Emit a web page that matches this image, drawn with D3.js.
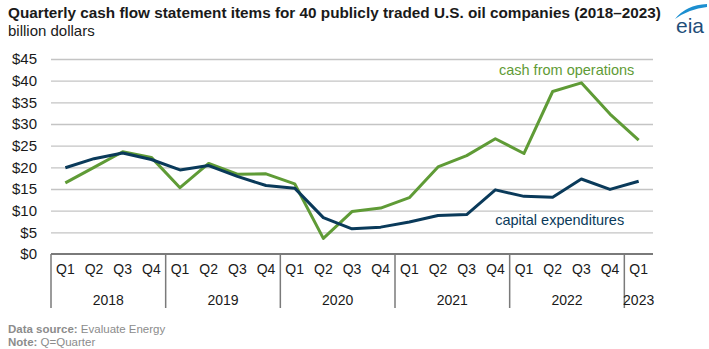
<!DOCTYPE html>
<html>
<head>
<meta charset="utf-8">
<script src="https://cdn.jsdelivr.net/npm/d3@7"></script>
<style>
  body { margin: 0; background: #fff; }
  svg { font-family: "Liberation Sans", Arial, sans-serif; }
</style>
</head>
<body>
<div id="chart"></div>
<script>
var svgWidth = 709;
var svgHeight = 349;

var leftMargin = 51;
var rightMargin = 56;
var topMargin = 59;
var bottomMargin = 95;

var chartWidth = svgWidth - leftMargin - rightMargin;
var chartHeight = svgHeight - topMargin - bottomMargin;

var years = ['2018', '2019', '2020', '2021', '2022', '2023'];
var quarters = ['2018Q1','2018Q2','2018Q3','2018Q4','2019Q1','2019Q2','2019Q3','2019Q4',
                '2020Q1','2020Q2','2020Q3','2020Q4','2021Q1','2021Q2','2021Q3','2021Q4',
                '2022Q1','2022Q2','2022Q3','2022Q4','2023Q1'];
var cashFromOperations = [16.4, 20.0, 23.6, 22.3, 15.3, 20.9, 18.4, 18.5, 16.2, 3.6, 9.8,
                          10.6, 13.0, 20.1, 22.7, 26.6, 23.2, 37.5, 39.5, 32.3, 26.3];
var capitalExpenditures = [19.9, 22.0, 23.3, 21.8, 19.4, 20.4, 17.9, 15.8, 15.2, 8.4, 5.8,
                           6.2, 7.4, 8.9, 9.1, 14.8, 13.3, 13.1, 17.3, 14.9, 16.8];
var yTicks = [0, 5, 10, 15, 20, 25, 30, 35, 40, 45];

var green = '#5f9b36';
var navy = '#0a3a5a';

var svg = d3.select('#chart')
    .append('svg')
    .attr('width', svgWidth)
    .attr('height', svgHeight);

// title - shrink font until it fits before the logo
var title = svg.append('text')
    .attr('x', 8)
    .attr('y', 18)
    .attr('font-size', 16)
    .attr('font-weight', 'bold')
    .attr('fill', '#1a1a1a')
    .text('Quarterly cash flow statement items for 40 publicly traded U.S. oil companies (2018\u20132023)');
var titleLen = title.node().getComputedTextLength();
if (titleLen > 655) {
    title.attr('font-size', Math.floor(16 * 655 / titleLen * 10) / 10);
}

svg.append('text')
    .attr('x', 8)
    .attr('y', 36)
    .attr('font-size', 15)
    .attr('fill', '#1a1a1a')
    .text('billion dollars');

// eia logo
var logo = svg.append('g').attr('transform', 'translate(672, 0)');
logo.append('path')
    .attr('d', 'M3,19 Q14,5 35,4 L35,7 Q17,9 3,19 Z')
    .attr('fill', '#1c8fd0');
logo.append('text')
    .attr('x', 18)
    .attr('y', 33)
    .attr('text-anchor', 'middle')
    .attr('font-size', 21)
    .attr('fill', '#1f4e79')
    .text('eia');

var chart = svg.append('g')
    .attr('transform', `translate(${leftMargin}, ${topMargin})`);

var xScale = d3.scaleBand()
    .domain(quarters)
    .range([0, chartWidth]);
var yScale = d3.scaleLinear()
    .domain([0, 45])
    .range([chartHeight, 0]);

var mid = d => xScale(d) + xScale.bandwidth() / 2;

// y axis with gridlines
var yAxis = d3.axisLeft(yScale)
    .tickValues(yTicks)
    .tickSize(-chartWidth)
    .tickPadding(14)
    .tickFormat(d => '$' + d);

var yG = chart.append('g').call(yAxis);
yG.select('.domain').remove();
yG.selectAll('.tick line')
    .attr('stroke', '#c4c4c4')
    .attr('stroke-width', 1.4)
    .filter(d => d === 0).remove();
yG.selectAll('.tick text')
    .attr('font-size', 15)
    .attr('fill', '#1a1a1a')
    .attr('font-family', '"Liberation Sans", Arial, sans-serif');

// x axis quarter labels
var xAxis = d3.axisBottom(xScale)
    .tickSize(0)
    .tickPadding(10)
    .tickFormat(d => d.slice(4));

var xG = chart.append('g')
    .attr('transform', `translate(0, ${chartHeight})`)
    .call(xAxis);
xG.select('.domain').remove();
xG.selectAll('.tick text')
    .attr('font-size', 14)
    .attr('fill', '#1a1a1a')
    .attr('font-family', '"Liberation Sans", Arial, sans-serif');

// year separators and labels
years.forEach(function(year) {
    var inYear = quarters.filter(q => q.slice(0, 4) === year);
    var start = xScale(inYear[0]);
    var end = xScale(inYear[inYear.length - 1]) + xScale.bandwidth();
    chart.append('line')
        .attr('x1', start).attr('x2', start)
        .attr('y1', chartHeight).attr('y2', chartHeight + 54)
        .attr('stroke', '#7a7a7a')
        .attr('stroke-width', 1.5);
    chart.append('text')
        .attr('x', (start + end) / 2)
        .attr('y', chartHeight + 51)
        .attr('text-anchor', 'middle')
        .attr('font-size', 14)
        .attr('fill', '#1a1a1a')
        .text(year);
});

// axis line
chart.append('line')
    .attr('x1', 0).attr('x2', chartWidth)
    .attr('y1', chartHeight).attr('y2', chartHeight)
    .attr('stroke', '#7a7a7a')
    .attr('stroke-width', 2);

// lines
var line = d3.line()
    .x((d, i) => mid(quarters[i]))
    .y(d => yScale(d));

chart.append('path')
    .datum(cashFromOperations)
    .attr('fill', 'none')
    .attr('stroke', green)
    .attr('stroke-width', 3)
    .attr('stroke-linejoin', 'round')
    .attr('d', line);

chart.append('path')
    .datum(capitalExpenditures)
    .attr('fill', 'none')
    .attr('stroke', navy)
    .attr('stroke-width', 3)
    .attr('stroke-linejoin', 'round')
    .attr('d', line);

// series labels
chart.append('text')
    .attr('x', mid('2022Q2') + 14)
    .attr('y', yScale(41.3))
    .attr('text-anchor', 'middle')
    .attr('font-size', 14.5)
    .attr('fill', green)
    .text('cash from operations');

chart.append('text')
    .attr('x', mid('2022Q2') + 7)
    .attr('y', yScale(6.6))
    .attr('text-anchor', 'middle')
    .attr('font-size', 14.5)
    .attr('fill', navy)
    .text('capital expenditures');

// footnotes
var notes = [['Data source: ', 'Evaluate Energy'], ['Note: ', 'Q=Quarter']];
notes.forEach(function(n, i) {
    var t = svg.append('text')
        .attr('x', 8)
        .attr('y', 333 + i * 13)
        .attr('font-size', 11.5)
        .attr('fill', '#8c8c8c');
    t.append('tspan').attr('font-weight', 'bold').text(n[0]);
    t.append('tspan').text(n[1]);
});
</script>
</body>
</html>
